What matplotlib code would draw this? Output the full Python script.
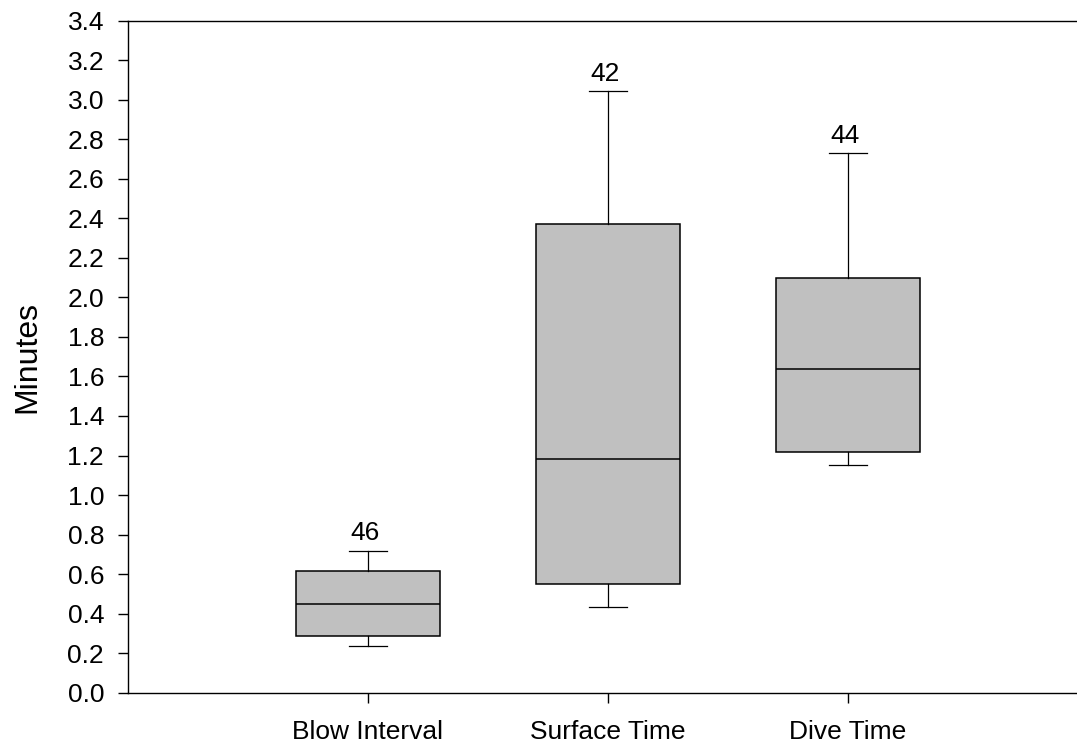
import matplotlib
matplotlib.use("Agg")
import matplotlib.pyplot as plt

plt.rcParams['font.family'] = ['Liberation Sans', 'DejaVu Sans']

# Box-plot summaries (minutes)
categories = ["Blow Interval", "Surface Time", "Dive Time"]
whisker_low = [0.235, 0.435, 1.151]
q1 = [0.285, 0.552, 1.218]
median = [0.450, 1.184, 1.637]
q3 = [0.617, 2.370, 2.100]
whisker_high = [0.717, 3.043, 2.730]
sample_n = [46, 42, 44]

yticks = [round(0.2 * i, 1) for i in range(18)]

W, H = 1077, 747
fig = plt.figure(figsize=(W / 100, H / 100), dpi=100)
ax = fig.add_axes([128 / W, 1 - 692.7 / H, 960 / W, 672 / H])

stats = []
for i, name in enumerate(categories):
    stats.append(dict(label=name, whislo=whisker_low[i], q1=q1[i], med=median[i],
                      q3=q3[i], whishi=whisker_high[i], fliers=[]))

positions = list(range(1, len(categories) + 1))
ax.bxp(stats, positions=positions, widths=0.6, capwidths=0.16,
       showfliers=False, patch_artist=True,
       boxprops=dict(facecolor="#c0c0c0", edgecolor="black", linewidth=1.1),
       medianprops=dict(color="black", linewidth=1.1),
       whiskerprops=dict(color="black", linewidth=0.9),
       capprops=dict(color="black", linewidth=0.9))

for pos, top, n in zip(positions, whisker_high, sample_n):
    ax.annotate(str(n), xy=(pos, top), xytext=(-2, 4), textcoords="offset points",
                ha="center", va="bottom", fontsize=19)

ax.set_xlim(0, 4)
ax.set_ylim(0, 3.4)
ax.set_yticks(yticks)
ax.set_yticklabels([f"{v:.1f}" for v in yticks])
ax.set_xticks(positions)
ax.set_xticklabels(categories)

ax.tick_params(axis="y", direction="out", length=7.2, width=1, labelsize=19, pad=10)
ax.tick_params(axis="x", direction="out", length=7, width=1, labelsize=19, pad=12.5)

for side in ("left", "bottom", "top"):
    ax.spines[side].set_linewidth(1.0)
    ax.spines[side].set_color("black")
ax.spines["right"].set_visible(False)

ax.set_ylabel("Minutes", fontsize=23, labelpad=18)

fig.savefig("out.png", dpi=100)
